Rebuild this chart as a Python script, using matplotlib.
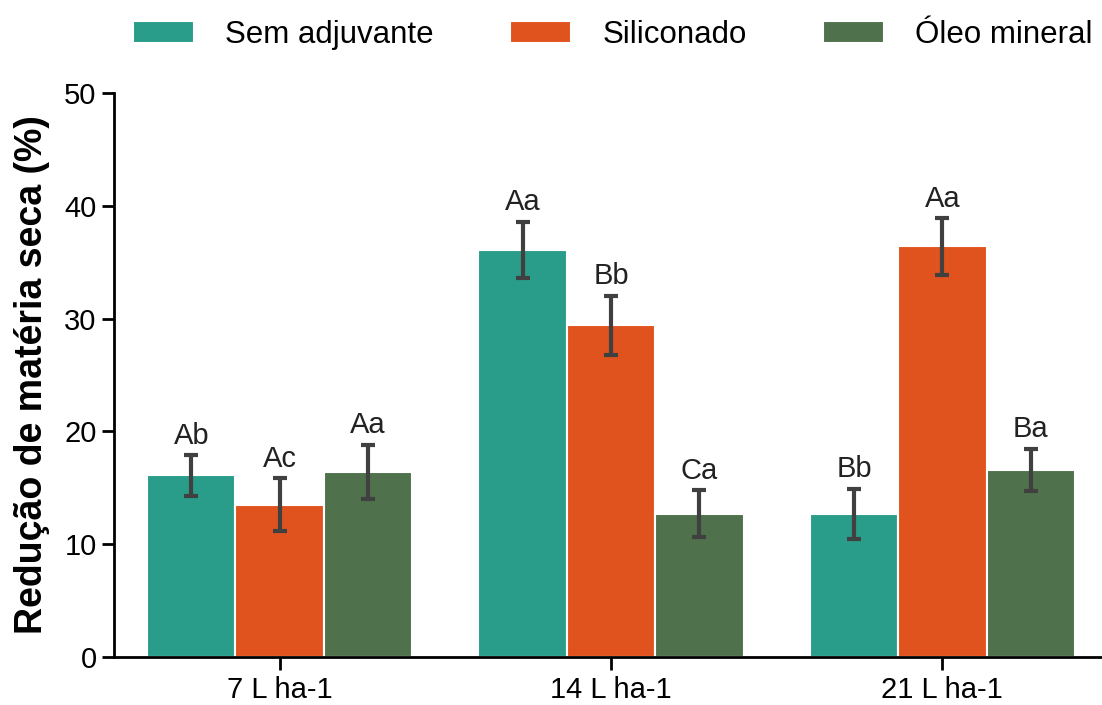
import matplotlib.pyplot as plt
import numpy as np

plt.rcParams['font.family'] = ['Liberation Sans', 'DejaVu Sans']

doses = ["7 L ha-1", "14 L ha-1", "21 L ha-1"]
series = ["Sem adjuvante", "Siliconado", "Óleo mineral"]
colors = ["#2a9d8a", "#e0531f", "#4f724c"]

sem_adj = [16.1, 36.1, 12.7]
siliconado = [13.5, 29.4, 36.4]
oleo = [16.4, 12.7, 16.6]

sem_adj_err = [1.8, 2.5, 2.2]
siliconado_err = [2.35, 2.6, 2.5]
oleo_err = [2.4, 2.1, 1.85]

sem_adj_lbl = ["Ab", "Aa", "Bb"]
siliconado_lbl = ["Ac", "Bb", "Aa"]
oleo_lbl = ["Aa", "Ca", "Ba"]

values = [sem_adj, siliconado, oleo]
errors = [sem_adj_err, siliconado_err, oleo_err]
letters = [sem_adj_lbl, siliconado_lbl, oleo_lbl]

fig = plt.figure(figsize=(11.02, 7.05), dpi=100)
ax = fig.add_axes([114 / 1102, 48 / 705, 994 / 1102, 564 / 705])

x = np.arange(len(doses))
w = 0.8 / 3
for i in range(3):
    pos = x + (i - 1) * w
    ax.bar(pos, values[i], w, color=colors[i], edgecolor="white", linewidth=1.5,
           label=series[i], zorder=2)
    ax.errorbar(pos, values[i], yerr=errors[i], fmt="none", ecolor="#404040",
                elinewidth=3, capsize=5, capthick=3, zorder=3)
    for p, v, e, t in zip(pos, values[i], errors[i], letters[i]):
        ax.annotate(t, (p, v + e), xytext=(0, 4), textcoords="offset points",
                    ha="center", va="bottom", fontsize=21, color="#222222")

ax.set_xlim(-0.5, 2.5)
ax.set_ylim(0, 50)
ax.set_yticks([0, 10, 20, 30, 40, 50])
ax.set_xticks(x)
ax.set_xticklabels(doses)
ax.tick_params(axis="both", labelsize=21, width=2, length=9)
ax.tick_params(axis="x", pad=5)
ax.spines["top"].set_visible(False)
ax.spines["right"].set_visible(False)
ax.spines["left"].set_linewidth(2)
ax.spines["bottom"].set_linewidth(2)
ax.set_ylabel("Redução de matéria seca (%)", fontsize=27, fontweight="bold", labelpad=10)

fig.legend(loc="center", bbox_to_anchor=(0.556, 0.95), ncol=3, frameon=False,
           fontsize=22.5, handlelength=1.95, handleheight=0.7, handletextpad=1.0,
           columnspacing=2.45, borderpad=0.2)

fig.savefig("out.png", dpi=100)
